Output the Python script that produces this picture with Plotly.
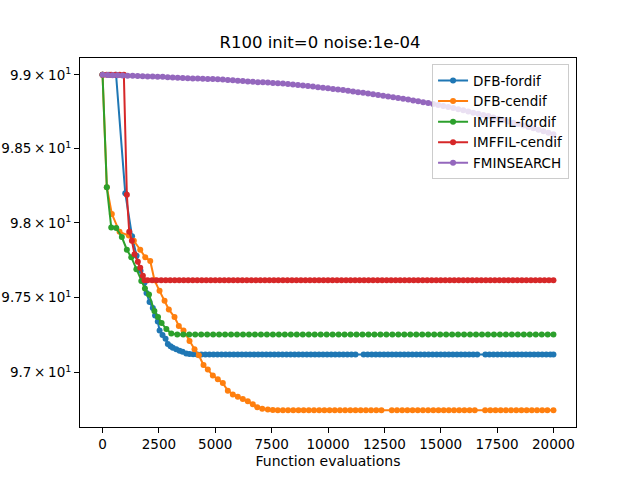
import math
import plotly.graph_objects as go

# function evaluations / objective values
dfb_fordif_head_x = [0, 290, 600, 1007, 1310, 1508, 1685, 1863, 1950, 2085, 2230, 2330, 2450,
                     2530, 2660, 2795, 2896, 3016, 3118, 3268, 3415, 3548, 3712, 3858, 4020]
dfb_fordif_head_y = [99.0, 99.0, 99.0, 98.20, 97.91, 97.78, 97.68, 97.60, 97.53, 97.47, 97.43, 97.38, 97.34,
                     97.28, 97.25, 97.225, 97.19, 97.175, 97.165, 97.155, 97.145, 97.138, 97.127, 97.124, 97.122]
dfb_fordif_tail_x = [4200, 4380, 4560, 4740, 4920, 5100, 5280, 5460, 5640, 5820,
                     6000, 6180, 6360, 6540, 6720, 6900, 7080, 7260, 7440, 7620,
                     7800, 7980, 8160, 8340, 8520, 8700, 8880, 9060, 9240, 9420,
                     9600, 9780, 9960, 10140, 10320, 10500, 10680, 10860, 11040, 11220,
                     11580, 11760, 11940, 12120, 12300, 12480, 12660, 12840, 13020, 13200,
                     13380, 13560, 13740, 13920, 14100, 14280, 14460, 14640, 14820, 15000,
                     15180, 15360, 15540, 15720, 15900, 16080, 16260, 16440, 16620, 16980,
                     17160, 17340, 17520, 17700, 17880, 18060, 18240, 18420, 18600, 18780,
                     18960, 19140, 19320, 19500, 19680, 19860, 20000]
dfb_fordif_tail_y = [97.121, 97.121, 97.121, 97.121, 97.121, 97.121, 97.121, 97.121, 97.121, 97.121,
                     97.121, 97.121, 97.121, 97.121, 97.121, 97.121, 97.121, 97.121, 97.121, 97.121,
                     97.121, 97.121, 97.121, 97.121, 97.121, 97.121, 97.121, 97.121, 97.121, 97.121,
                     97.121, 97.121, 97.121, 97.121, 97.121, 97.121, 97.121, 97.121, 97.121, 97.121,
                     97.121, 97.121, 97.121, 97.121, 97.121, 97.121, 97.121, 97.121, 97.121, 97.121,
                     97.121, 97.121, 97.121, 97.121, 97.121, 97.121, 97.121, 97.121, 97.121, 97.121,
                     97.121, 97.121, 97.121, 97.121, 97.121, 97.121, 97.121, 97.121, 97.121, 97.121,
                     97.121, 97.121, 97.121, 97.121, 97.121, 97.121, 97.121, 97.121, 97.121, 97.121,
                     97.121, 97.121, 97.121, 97.121, 97.121, 97.121, 97.121]

dfb_cendif_head_x = [0, 190, 412, 754, 1166, 1388, 1672, 1894, 2115, 2306, 2528, 2750, 2940, 3193,
                     3384, 3592, 3858, 4080, 4271, 4479, 4670, 4892, 5113, 5335, 5557, 5779, 6000,
                     6222, 6444, 6666, 6861, 7083, 7331, 7553, 7775]
dfb_cendif_head_y = [99.0, 98.24, 98.06, 97.94, 97.915, 97.88, 97.82, 97.77, 97.745, 97.615, 97.545, 97.478,
                     97.42, 97.37, 97.31, 97.28, 97.21, 97.155, 97.115, 97.05, 97.02, 96.98, 96.955, 96.93,
                     96.88, 96.855, 96.84, 96.825, 96.81, 96.79, 96.77, 96.76, 96.755, 96.752, 96.75]
dfb_cendif_tail_x = [8000, 8230, 8460, 8690, 8920, 9150, 9380, 9610, 9840, 10070,
                     10300, 10530, 10760, 10990, 11220, 11450, 11680, 11910, 12140, 12370,
                     12830, 13060, 13290, 13520, 13750, 13980, 14210, 14440, 14670, 14900,
                     15130, 15360, 15590, 15820, 16050, 16280, 16510, 16970, 17200, 17430,
                     17660, 17890, 18120, 18350, 18580, 18810, 19040, 19270, 19500, 19730,
                     20000]
dfb_cendif_tail_y = [96.75, 96.75, 96.75, 96.75, 96.75, 96.75, 96.75, 96.75, 96.75, 96.75,
                     96.75, 96.75, 96.75, 96.75, 96.75, 96.75, 96.75, 96.75, 96.75, 96.75,
                     96.75, 96.75, 96.75, 96.75, 96.75, 96.75, 96.75, 96.75, 96.75, 96.75,
                     96.75, 96.75, 96.75, 96.75, 96.75, 96.75, 96.75, 96.75, 96.75, 96.75,
                     96.75, 96.75, 96.75, 96.75, 96.75, 96.75, 96.75, 96.75, 96.75, 96.75,
                     96.75]

imffil_fordif_head_x = [0, 190, 386, 608, 856, 1078, 1273, 1500, 1720, 1880, 2060, 2300, 2460, 2620, 2830, 3050]
imffil_fordif_head_y = [99.0, 98.24, 97.97, 97.965, 97.905, 97.82, 97.77, 97.69, 97.61, 97.56, 97.52,
                        97.41, 97.37, 97.33, 97.29, 97.26]
imffil_fordif_tail_x = [3315, 3580, 3845, 4110, 4375, 4640, 4905, 5170, 5435, 5700,
                        5965, 6230, 6495, 6760, 7025, 7290, 7555, 7820, 8085, 8350,
                        8615, 8880, 9145, 9410, 9675, 9940, 10205, 10470, 10735, 11000,
                        11265, 11530, 11795, 12060, 12325, 12590, 12855, 13120, 13385, 13650,
                        13915, 14180, 14445, 14710, 14975, 15240, 15505, 15770, 16035, 16300,
                        16565, 16830, 17095, 17360, 17625, 17890, 18155, 18420, 18685, 18950,
                        19215, 19480, 19745, 20000]
imffil_fordif_tail_y = [97.254, 97.254, 97.254, 97.254, 97.254, 97.254, 97.254, 97.254, 97.254, 97.254,
                        97.254, 97.254, 97.254, 97.254, 97.254, 97.254, 97.254, 97.254, 97.254, 97.254,
                        97.254, 97.254, 97.254, 97.254, 97.254, 97.254, 97.254, 97.254, 97.254, 97.254,
                        97.254, 97.254, 97.254, 97.254, 97.254, 97.254, 97.254, 97.254, 97.254, 97.254,
                        97.254, 97.254, 97.254, 97.254, 97.254, 97.254, 97.254, 97.254, 97.254, 97.254,
                        97.254, 97.254, 97.254, 97.254, 97.254, 97.254, 97.254, 97.254, 97.254, 97.254,
                        97.254, 97.254, 97.254, 97.254]

imffil_cendif_head_x = [0, 190, 380, 570, 760, 945, 1078, 1183, 1301, 1419, 1567, 1671, 1789, 1863]
imffil_cendif_head_y = [99.0, 99.0, 99.0, 99.0, 99.0, 99.0, 98.19, 97.94, 97.88, 97.79, 97.74, 97.70,
                        97.645, 97.615]
imffil_cendif_tail_x = [2000, 2200, 2400, 2600, 2800, 3000, 3200, 3400, 3600, 3800,
                        4000, 4200, 4400, 4600, 4800, 5000, 5200, 5400, 5600, 5800,
                        6000, 6200, 6400, 6600, 6800, 7000, 7200, 7400, 7600, 7800,
                        8000, 8200, 8400, 8600, 8800, 9000, 9200, 9400, 9600, 9800,
                        10000, 10200, 10400, 10600, 10800, 11000, 11200, 11400, 11600, 11800,
                        12000, 12200, 12400, 12600, 12800, 13000, 13200, 13400, 13600, 13800,
                        14000, 14200, 14400, 14600, 14800, 15000, 15200, 15400, 15600, 15800,
                        16000, 16200, 16400, 16600, 16800, 17000, 17200, 17400, 17600, 17800,
                        18000, 18200, 18400, 18600, 18800, 19000, 19200, 19400, 19600, 19800,
                        20000]
imffil_cendif_tail_y = [97.615, 97.615, 97.615, 97.615, 97.615, 97.615, 97.615, 97.615, 97.615, 97.615,
                        97.615, 97.615, 97.615, 97.615, 97.615, 97.615, 97.615, 97.615, 97.615, 97.615,
                        97.615, 97.615, 97.615, 97.615, 97.615, 97.615, 97.615, 97.615, 97.615, 97.615,
                        97.615, 97.615, 97.615, 97.615, 97.615, 97.615, 97.615, 97.615, 97.615, 97.615,
                        97.615, 97.615, 97.615, 97.615, 97.615, 97.615, 97.615, 97.615, 97.615, 97.615,
                        97.615, 97.615, 97.615, 97.615, 97.615, 97.615, 97.615, 97.615, 97.615, 97.615,
                        97.615, 97.615, 97.615, 97.615, 97.615, 97.615, 97.615, 97.615, 97.615, 97.615,
                        97.615, 97.615, 97.615, 97.615, 97.615, 97.615, 97.615, 97.615, 97.615, 97.615,
                        97.615, 97.615, 97.615, 97.615, 97.615, 97.615, 97.615, 97.615, 97.615, 97.615,
                        97.615]

fminsearch_x = [0, 222, 444, 667, 889, 1111, 1333, 1556, 1778, 2000,
                2222, 2444, 2667, 2889, 3111, 3333, 3556, 3778, 4000, 4222,
                4444, 4667, 4889, 5111, 5333, 5556, 5778, 6000, 6222, 6444,
                6667, 6889, 7111, 7333, 7556, 7778, 8000, 8222, 8444, 8667,
                8889, 9111, 9333, 9556, 9778, 10000, 10222, 10444, 10667, 10889,
                11111, 11333, 11556, 11778, 12000, 12222, 12444, 12667, 12889, 13111,
                13333, 13556, 13778, 14000, 14222, 14444, 14667, 14889, 15111, 15333,
                15556, 15778, 16000, 16222, 16444, 16667, 16889, 17111, 17333, 17556,
                17778, 18000, 18222, 18444, 18667, 18889, 19111, 19333, 19556, 19778,
                20000]
fminsearch_y = [99.000, 98.999, 98.997, 98.996, 98.995, 98.993, 98.993, 98.991, 98.990, 98.989,
                98.988, 98.987, 98.986, 98.984, 98.982, 98.980, 98.978, 98.977, 98.975, 98.974,
                98.973, 98.972, 98.971, 98.970, 98.968, 98.965, 98.962, 98.960, 98.957, 98.954,
                98.952, 98.950, 98.949, 98.947, 98.945, 98.943, 98.941, 98.938, 98.934, 98.931,
                98.928, 98.924, 98.920, 98.916, 98.912, 98.908, 98.904, 98.900, 98.896, 98.891,
                98.887, 98.882, 98.878, 98.873, 98.868, 98.863, 98.858, 98.853, 98.848, 98.843,
                98.838, 98.832, 98.826, 98.820, 98.814, 98.808, 98.802, 98.795, 98.788, 98.781,
                98.774, 98.767, 98.759, 98.751, 98.743, 98.736, 98.728, 98.720, 98.711, 98.702,
                98.693, 98.684, 98.675, 98.666, 98.656, 98.646, 98.637, 98.627, 98.617, 98.607,
                98.597]

series_names = ["DFB-fordif", "DFB-cendif", "IMFFIL-fordif", "IMFFIL-cendif", "FMINSEARCH"]
series_colors = ["#1f77b4", "#ff7f0e", "#2ca02c", "#d62728", "#9467bd"]

y_tickvals = [97.0, 97.5, 98.0, 98.5, 99.0]
y_ticktext = ["9.7\u2009×\u200910<sup>1</sup>", "9.75\u2009×\u200910<sup>1</sup>", "9.8\u2009×\u200910<sup>1</sup>",
              "9.85\u2009×\u200910<sup>1</sup>", "9.9\u2009×\u200910<sup>1</sup>"]
x_tickvals = [0, 2500, 5000, 7500, 10000, 12500, 15000, 17500, 20000]
x_ticktext = ["0", "2500", "5000", "7500", "10000", "12500", "15000", "17500", "20000"]

series = [
    (dfb_fordif_head_x + dfb_fordif_tail_x, dfb_fordif_head_y + dfb_fordif_tail_y),
    (dfb_cendif_head_x + dfb_cendif_tail_x, dfb_cendif_head_y + dfb_cendif_tail_y),
    (imffil_fordif_head_x + imffil_fordif_tail_x, imffil_fordif_head_y + imffil_fordif_tail_y),
    (imffil_cendif_head_x + imffil_cendif_tail_x, imffil_cendif_head_y + imffil_cendif_tail_y),
    (fminsearch_x, fminsearch_y),
]

fig = go.Figure()
for (xs, ys), name, col in zip(series, series_names, series_colors):
    assert len(xs) == len(ys), name
    fig.add_trace(go.Scatter(x=xs, y=ys, name=name, mode="lines+markers",
                             line=dict(color=col, width=2),
                             marker=dict(color=col, size=6)))

# matplotlib style 5% margins, log scale on y
all_y = [v for _, ys in series for v in ys]
lo, hi = math.log10(min(all_y)), math.log10(max(all_y))
pad = (hi - lo) * 0.05

font = "DejaVu Sans"
fig.update_layout(
    width=640, height=480,
    margin=dict(l=80, r=64, t=58, b=53),
    paper_bgcolor="white", plot_bgcolor="white",
    font=dict(family=font, size=14, color="black"),
    title=dict(text="R100 init=0 noise:1e-04", x=0.5, xanchor="center",
               y=1 - 42 / 480, yanchor="middle", font=dict(size=16.5)),
    legend=dict(x=0.986, y=0.983, xanchor="right", yanchor="top",
                bgcolor="rgba(255,255,255,0.8)", bordercolor="#cccccc", borderwidth=1,
                font=dict(size=13.5), tracegroupgap=0),
    showlegend=True,
)
fig.update_xaxes(range=[-1000, 21000], tickvals=x_tickvals, ticktext=x_ticktext, ticks="outside",
                 ticklen=5, tickcolor="black", showline=True, linecolor="black", linewidth=1,
                 mirror=True, showgrid=False, zeroline=False, automargin=False,
                 tickfont=dict(size=13.5),
                 title=dict(text="Function evaluations", standoff=4, font=dict(size=14)))
fig.update_yaxes(type="log", range=[lo - pad, hi + pad], tickvals=y_tickvals, ticktext=y_ticktext,
                 ticks="outside", ticklen=5, tickcolor="black", showline=True, linecolor="black",
                 linewidth=1, mirror=True, showgrid=False, zeroline=False, automargin=False,
                 tickfont=dict(size=13.5))

# drop the default 8px page margin so the figure sits at the window corner
fig.write_html("out.html", config={"displayModeBar": False},
               post_script="document.body.style.margin = '0';")
